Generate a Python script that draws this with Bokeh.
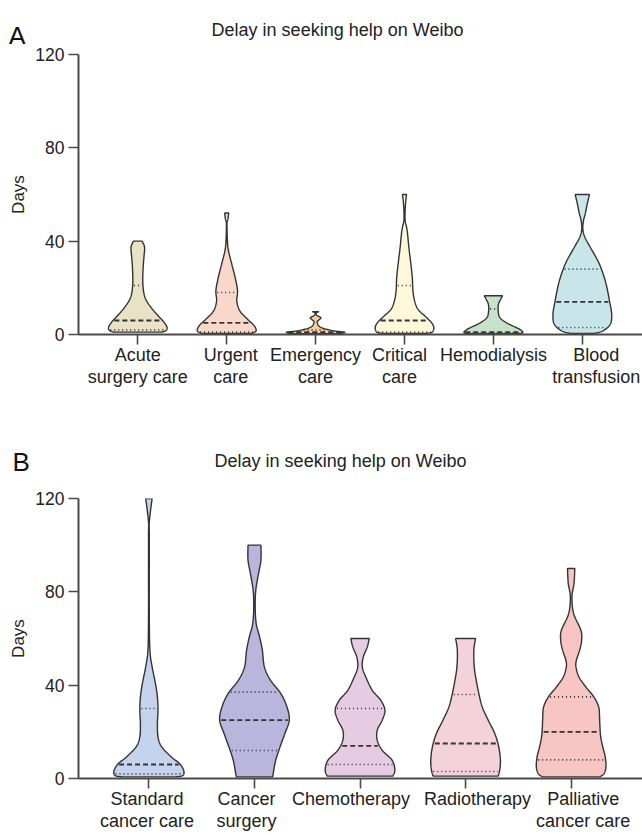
import numpy as np
from bokeh.plotting import figure
from bokeh.models import Range1d, FixedTicker, LinearAxis, Label
from bokeh.layouts import column
from bokeh.embed import file_html
from bokeh.resources import INLINE

FONT = "Liberation Sans"
TITLE = "Delay in seeking help on Weibo"

# ---------------- Panel A: general / emergency care ----------------
a_labels = ["Acute\nsurgery care", "Urgent\ncare", "Emergency\ncare",
            "Critical\ncare", "Hemodialysis", "Blood\ntransfusion"]
a_q1 = [2, 1, 0.5, 1, 0.5, 3]
a_median = [6, 5, 1, 6, 1, 14]
a_q3 = [21, 18, 2, 21, 11, 28]
a_colors = ["#e9e2c6", "#f9d8cb", "#f6cd9f", "#fcf8d9", "#c6e2c9", "#c8e5ea"]

# density profiles: delay in days (bottom to top) and relative density
acute_days = [1.0, 1.6, 2.9, 5.1, 8.0, 11.6, 15.9, 21.6, 28.8, 33.1, 37.4, 40.0]
acute_density = [22, 26, 27.3, 24.7, 19, 12.3, 6.7, 4.7, 5, 5.7, 6.3, 4]

urgent_days = [0.4, 1.5, 3.7, 6.5, 10.1, 14.4, 18.8, 24.5, 30.2, 36.0, 40.3, 47.5, 49.6, 52.1]
urgent_density = [24, 29, 27.3, 20.7, 13, 10, 10.7, 8.3, 5, 1.7, 0.7, 0.3, 1.3, 2]

emergency_days = [0.3, 0.9, 1.6, 2.7, 3.7, 4.6, 5.5, 6.4, 7.2, 8.4, 9.4, 9.8]
emergency_density = [20, 28, 17, 7, 3, 2, 1.5, 3.5, 5, 0.8, 0.8, 3.3]

critical_days = [0.5, 1.0, 2.9, 5.1, 8.0, 10.8, 14.4, 18.8, 24.5, 30.2, 37.4,
                 43.2, 46.0, 48.9, 53.2, 57.5, 60.0]
critical_density = [22, 27.3, 29, 26.7, 20, 13.3, 10, 8.3, 7.7, 6.3, 4.3,
                    3, 2, 0.6, 0.6, 1.3, 2]

hemodialysis_days = [0.3, 0.8, 2.3, 3.7, 5.2, 7.3, 10.2, 13.0, 15.2, 16.6]
hemodialysis_density = [22, 29, 25.7, 19, 12.3, 6.3, 4.7, 5, 7.3, 9]

transfusion_days = [0.5, 1.5, 4.4, 8.7, 14.4, 21.6, 27.4, 31.7, 37.4, 41.7,
                    45.3, 48.9, 51.8, 56.1, 60.0]
transfusion_density = [12, 20, 27.4, 28.7, 26.6, 23.3, 19.2, 15.1, 7.8, 2.5,
                       0.5, 1.2, 2.9, 4.9, 7.0]

# ---------------- Panel B: cancer care ----------------
b_labels = ["Standard\ncancer care", "Cancer\nsurgery", "Chemotherapy",
            "Radiotherapy", "Palliative\ncancer care"]
b_q1 = [2, 12, 6, 3, 8]
b_median = [6, 25, 14, 15, 20]
b_q3 = [30, 37, 30, 36, 35]
b_colors = ["#c5d4ec", "#b9b6de", "#e6cce2", "#f4d2db", "#f7c5c2"]

standard_days = [0.7, 1.3, 3.4, 6.3, 9.2, 13.6, 17.8, 23.5, 29.2, 34.9, 40.7,
                 47.8, 55, 70, 90, 105, 109.3, 115, 120]
standard_density = [28, 34.8, 35.6, 31.5, 23, 13, 9.3, 8.7, 9.3, 8.7, 6.7,
                    3.3, 1, 0.4, 0.4, 0.4, 0.3, 1.7, 3.3]

surgery_days = [0.7, 2.1, 7.8, 13.6, 19.3, 25.0, 30.7, 36.4, 42.1, 47.8, 55.0,
                60.7, 66.4, 73.6, 80.7, 87.9, 93.6, 100]
surgery_density = [17.7, 18.3, 20.7, 25, 29.7, 34, 31.7, 25.7, 15.7, 9.7, 7.7,
                   5, 1.7, 0.7, 1.3, 4, 6.3, 6.3]

chemo_days = [1.0, 3.6, 7.8, 12.1, 16.4, 20.7, 25.0, 29.3, 33.6, 37.8, 43.6,
              47.8, 52.1, 56.4, 60]
chemo_density = [33, 35, 32.3, 22.3, 17.3, 17.3, 22.3, 25, 20.7, 12.3, 5.7,
                 2.3, 3.3, 7.3, 9.3]

radio_days = [1.0, 3.6, 7.9, 13.6, 19.3, 25.0, 30.7, 36.4, 42.1, 47.8, 55.0, 60]
radio_density = [32.7, 34.3, 35, 33.3, 29.3, 22.7, 16.7, 13.3, 10.7, 8.7, 8.3, 10]

palliative_days = [0.7, 2.1, 5.0, 9.3, 13.6, 17.8, 22.1, 26.3, 30.7, 35.0, 39.3,
                   43.6, 47.8, 50.7, 55.0, 59.3, 63.6, 70.7, 77.9, 83.6, 90]
palliative_density = [29, 33.2, 35.2, 34.4, 31.9, 29.9, 29.1, 28.7, 27.8, 22.9,
                      14.7, 7.8, 4.9, 5.3, 8.6, 10.6, 9.8, 2.5, 0.8, 2.9, 3.7]

a_profiles = [(acute_days, acute_density), (urgent_days, urgent_density),
              (emergency_days, emergency_density), (critical_days, critical_density),
              (hemodialysis_days, hemodialysis_density),
              (transfusion_days, transfusion_density)]
b_profiles = [(standard_days, standard_density), (surgery_days, surgery_density),
              (chemo_days, chemo_density), (radio_days, radio_density),
              (palliative_days, palliative_density)]

OUTLINE = "#333333"
AXIS = "#4a4a4a"
TEXT = "#222222"
HALF_WIDTH = 0.33  # widest point of every violin, in category units

# horizontal nudges (px) that keep neighbouring category names apart
a_label_nudge = [0, 4, 0, -5, 0, 14]
b_label_nudge = [-2, -8, -9, 12, 12]


def smooth(days, dens, n=12):
    """Catmull-Rom curve through the density profile."""
    pts = np.column_stack([days, dens]).astype(float)
    P = np.vstack([pts[0], pts, pts[-1]])
    out = []
    for i in range(1, len(P) - 2):
        p0, p1, p2, p3 = P[i - 1], P[i], P[i + 1], P[i + 2]
        for t in np.linspace(0, 1, n, endpoint=False):
            t2, t3 = t * t, t * t * t
            out.append(0.5 * (2 * p1 + (-p0 + p2) * t
                              + (2 * p0 - 5 * p1 + 4 * p2 - p3) * t2
                              + (-p0 + 3 * p1 - 3 * p2 + p3) * t3))
    out.append(pts[-1])
    out = np.array(out)
    out[:, 0] = np.maximum.accumulate(out[:, 0])
    out[:, 1] = np.clip(out[:, 1], 0.15, None)
    return out[:, 0], out[:, 1]


def draw_violins(p, profiles, q1, med, q3, colors):
    for i, (days, dens) in enumerate(profiles):
        c = i + 1
        d, w = smooth(days, dens)
        w = w / max(dens) * HALF_WIDTH
        xs = np.concatenate([c + w, (c - w)[::-1]])
        ys = np.concatenate([d, d[::-1]])
        p.patch(xs, ys, fill_color=colors[i], line_color=OUTLINE, line_width=1.4)
        for v, dash, lw in ((q1[i], "1 3", 1.6), (med[i], "5 3", 1.8), (q3[i], "1 3", 1.6)):
            hw = max(np.interp(v, d, w) - 0.015, 0.01)
            p.line([c - hw, c + hw], [v, v], line_color=OUTLINE,
                   line_dash=dash, line_width=lw)


def make_header(height, letter, letter_xy, title_xy):
    h = figure(width=642, height=height, x_range=Range1d(0, 642),
               y_range=Range1d(height, 0), output_backend="svg", toolbar_location=None,
               x_axis_location=None, y_axis_location=None, min_border=0,
               frame_align=False)
    h.outline_line_color = None
    h.grid.visible = False
    h.add_layout(Label(x=letter_xy[0], y=letter_xy[1], text=letter, text_font=FONT,
                       text_font_size="26px", text_color="#111111",
                       text_baseline="alphabetic", text_align="left"))
    h.add_layout(Label(x=title_xy[0], y=title_xy[1], text=TITLE, text_font=FONT,
                       text_font_size="18px", text_color=TEXT,
                       text_baseline="alphabetic", text_align="center"))
    return h


def make_panel(labels, nudges, x_end, height, bottom):
    n = len(labels)
    x_start = 0.333
    p = figure(width=642, height=height, x_range=Range1d(x_start, x_end),
               y_range=Range1d(0, 120), output_backend="svg", toolbar_location=None,
               min_border_left=78, min_border_right=0,
               min_border_top=10, min_border_bottom=bottom)
    p.outline_line_color = None
    p.grid.visible = False

    # axis carrying the line and category ticks
    xa = p.xaxis[0]
    xa.ticker = FixedTicker(ticks=list(range(1, n + 1)))
    xa.major_label_text_font_size = "1px"
    xa.major_label_text_alpha = 0
    xa.major_label_standoff = 0

    # category names, set just below the ticks
    px_per_unit = 564 / (x_end - x_start)
    pos = [round(i + 1 + nudges[i] / px_per_unit, 4) for i in range(n)]
    la = LinearAxis(ticker=FixedTicker(ticks=pos),
                    major_label_overrides={v: lab for v, lab in zip(pos, labels)})
    la.axis_line_color = None
    la.major_tick_line_color = None
    la.major_tick_out = 0
    la.major_tick_in = 0
    la.minor_tick_line_color = None
    la.major_label_standoff = 0
    la.major_label_text_font = FONT
    la.major_label_text_font_size = "18px"
    la.major_label_text_line_height = 1.13
    la.major_label_text_color = TEXT
    p.add_layout(la, "below")

    p.yaxis.ticker = FixedTicker(ticks=[0, 40, 80, 120])
    p.yaxis.axis_label = "Days"
    for ax in (xa, p.yaxis[0]):
        ax.axis_line_color = AXIS
        ax.axis_line_width = 2
        ax.major_tick_line_color = AXIS
        ax.major_tick_line_width = 1.6
        ax.major_tick_out = 10
        ax.major_tick_in = 0
        ax.minor_tick_line_color = None
    ya = p.yaxis[0]
    ya.major_label_text_font = FONT
    ya.major_label_text_color = TEXT
    ya.major_label_standoff = 4
    ya.major_label_text_font_size = "17.5px"
    ya.axis_label_text_font = FONT
    ya.axis_label_text_font_size = "17px"
    ya.axis_label_text_font_style = "normal"
    ya.axis_label_text_color = TEXT
    ya.axis_label_standoff = 4
    return p


# Panel A
ha = make_header(44, "A", (8, 35), (337, 29.5))
pa = make_panel(a_labels, a_label_nudge, 6.677, 376, 86)
draw_violins(pa, a_profiles, a_q1, a_median, a_q3, a_colors)

# Panel B
hb = make_header(68, "B", (12, 41.7), (340, 40))
pb = make_panel(b_labels, b_label_nudge, 5.676, 347, 57)
draw_violins(pb, b_profiles, b_q1, b_median, b_q3, b_colors)

layout = column(ha, pa, hb, pb, spacing=0)
open("out.html", "w").write(file_html(layout, INLINE))
